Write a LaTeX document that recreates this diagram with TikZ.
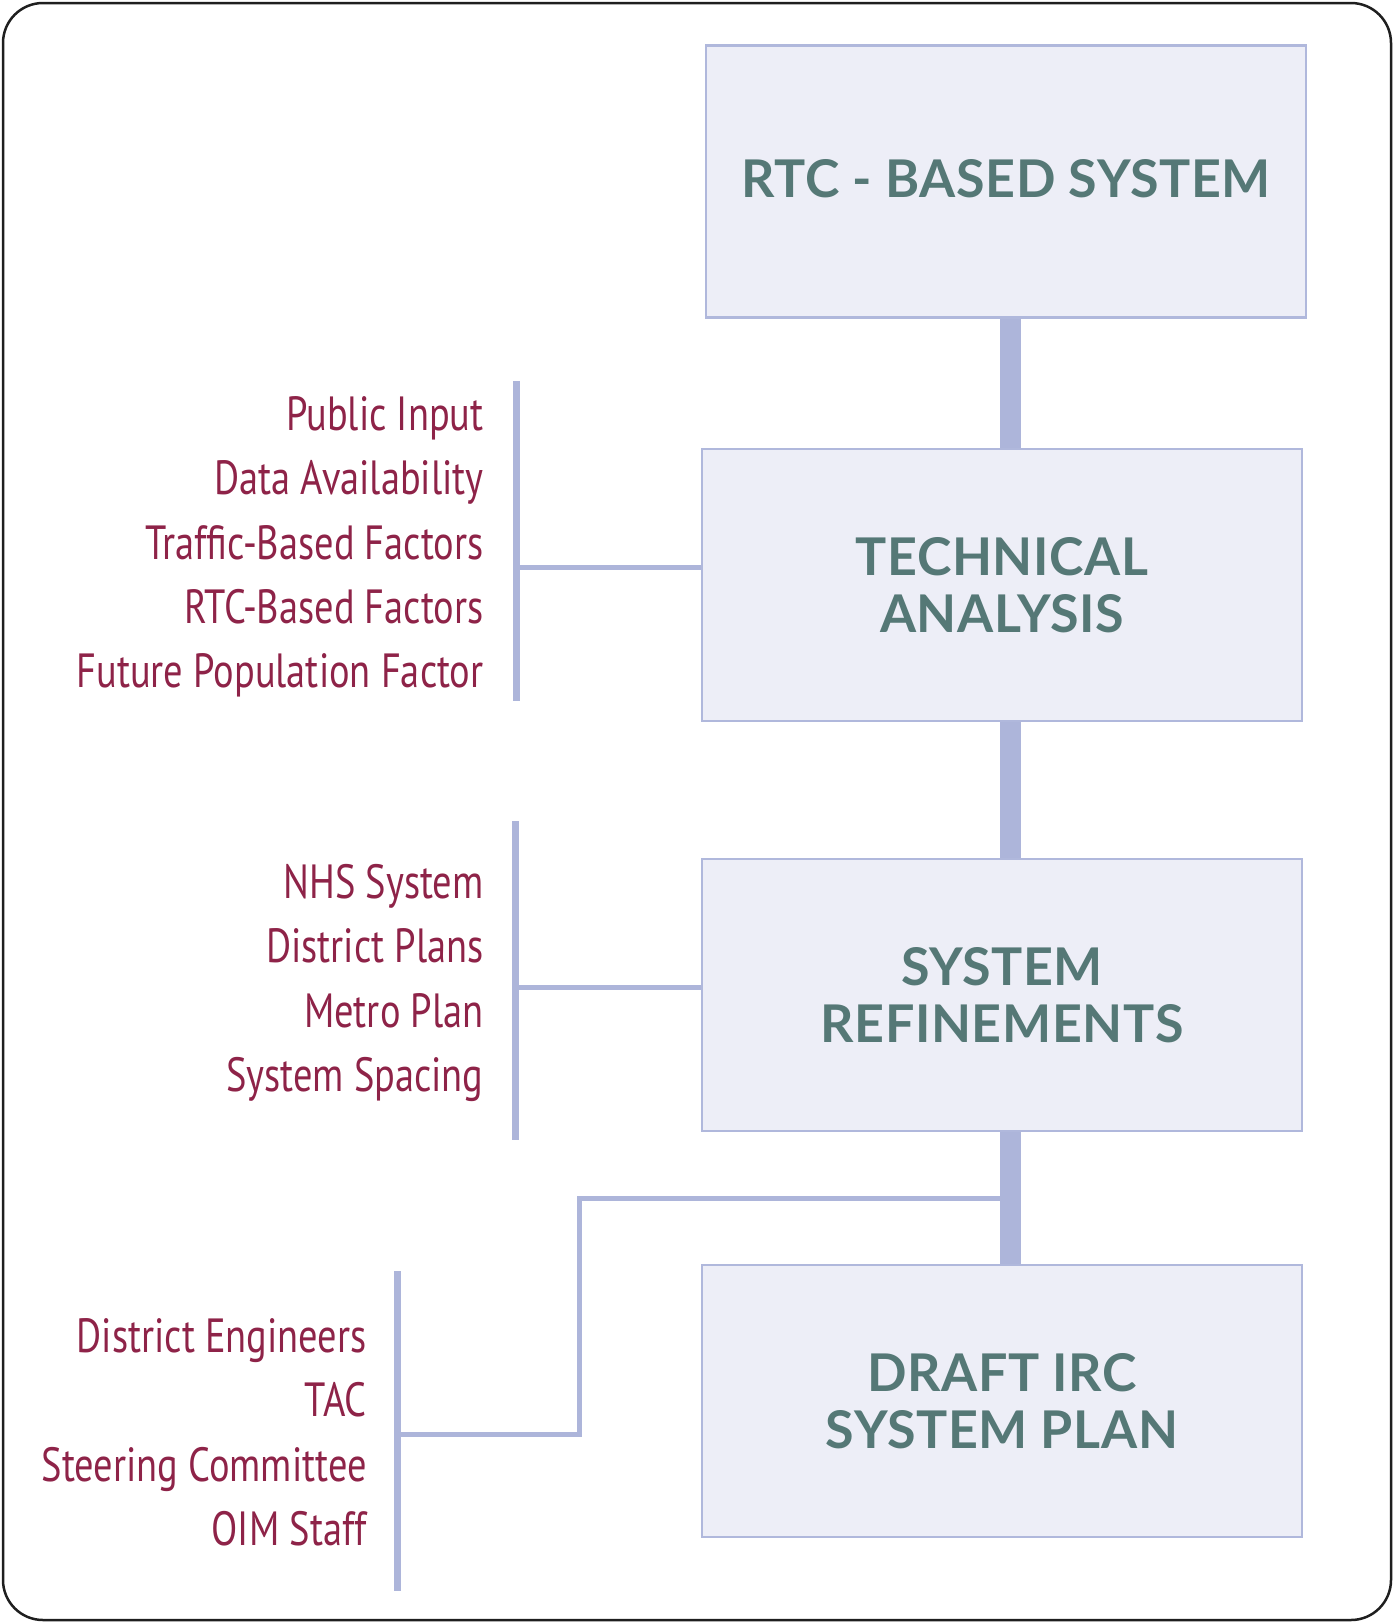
\documentclass[tikz,border=0pt]{standalone}
\usepackage{fontspec}
\newfontfamily\titlefont[LetterSpace=1.2]{Lato Bold}
\newfontfamily\labelfont[FakeStretch=0.80]{PT Sans}
\definecolor{boxfill}{HTML}{EDEEF7}
\definecolor{boxline}{HTML}{B0B8DC}
\definecolor{conn}{HTML}{ADB5DA}
\definecolor{titlecol}{HTML}{557876}
\definecolor{labelcol}{HTML}{8E2348}
\tikzset{
  stagebox/.style={draw=boxline, fill=boxfill, line width=1.25pt, minimum width=300pt, minimum height=136pt, inner sep=0pt,
    align=center, text=titlecol, font=\titlefont\fontsize{26}{28.5}\selectfont},
  factor/.style={anchor=base east, inner sep=0pt, text=labelcol, font=\labelfont\fontsize{24}{24}\selectfont},
  spineline/.style={draw=conn, line width=10.5pt},
  barline/.style={draw=conn, line width=3.5pt},
  branch/.style={draw=conn, line width=2.5pt},
}
\begin{document}
\begin{tikzpicture}[x=0.5pt,y=-0.5pt]
\useasboundingbox (0,0) rectangle (1394,1623);
\draw[line width=1.25pt, draw=black!88, rounded corners=20pt] (3,3) rectangle (1391,1620);

\coordinate (spine) at (1010,0);

% boxes
\node[stagebox] (b1) at (1006,181.6) {\raisebox{3pt}{RTC - BASED SYSTEM}};
\node[stagebox] (b2) at (1002,585) {TECHNICAL\\ANALYSIS};
\node[stagebox] (b3) at (1002,995) {\raisebox{-5pt}{SYSTEM}\\\raisebox{-5pt}{REFINEMENTS}};
\node[stagebox] (b4) at (1002,1401) {DRAFT IRC\\SYSTEM PLAN};

% spine connectors
\draw[spineline] (b1.south -| spine) -- (b2.north -| spine);
\draw[spineline] (b2.south -| spine) -- (b3.north -| spine);
\draw[spineline] (b3.south -| spine) -- (b4.north -| spine);

% group 1
\node[factor] (f11) at (484,430.5) {Public Input};
\node[factor] (f12) at (484,494.8) {Data Availability};
\node[factor] (f13) at (484,559.1) {Traffic-Based Factors};
\node[factor] (f14) at (484,623.4) {RTC-Based Factors};
\node[factor] (f15) at (484,687.7) {Future Population Factor};
\coordinate (g1top) at (516,381);
\coordinate (g1bot) at (516,700.6);
\coordinate (g1mid) at (516,567);
\draw[barline] (g1top) -- (g1bot);
\draw[branch] (g1mid) -- (g1mid -| b2.west);

% group 2
\node[factor] (f21) at (484,898.6) {NHS System};
\node[factor] (f22) at (484,962.9) {District Plans};
\node[factor] (f23) at (484,1027.2) {Metro Plan};
\node[factor] (f24) at (484,1091.5) {System Spacing};
\coordinate (g2top) at (515,821);
\coordinate (g2bot) at (515,1140);
\coordinate (g2mid) at (515,987);
\draw[barline] (g2top) -- (g2bot);
\draw[branch] (g2mid) -- (g2mid -| b3.west);

% group 3
\node[factor] (f31) at (367,1352) {District Engineers};
\node[factor] (f32) at (367,1416.5) {TAC};
\node[factor] (f33) at (367,1481) {Steering Committee};
\node[factor] (f34) at (367,1545.5) {OIM Staff};
\coordinate (g3top) at (397,1271);
\coordinate (g3bot) at (397,1591);
\coordinate (g3mid) at (397,1434);
\coordinate (g3turn) at (579.5,1434);
\coordinate (g3up) at (579.5,1198.5);
\coordinate (g3end) at (1000,1198.5);
\draw[barline] (g3top) -- (g3bot);
\draw[branch] (g3mid) -- (g3turn) -- (g3up) -- (g3end);
\end{tikzpicture}
\end{document}
